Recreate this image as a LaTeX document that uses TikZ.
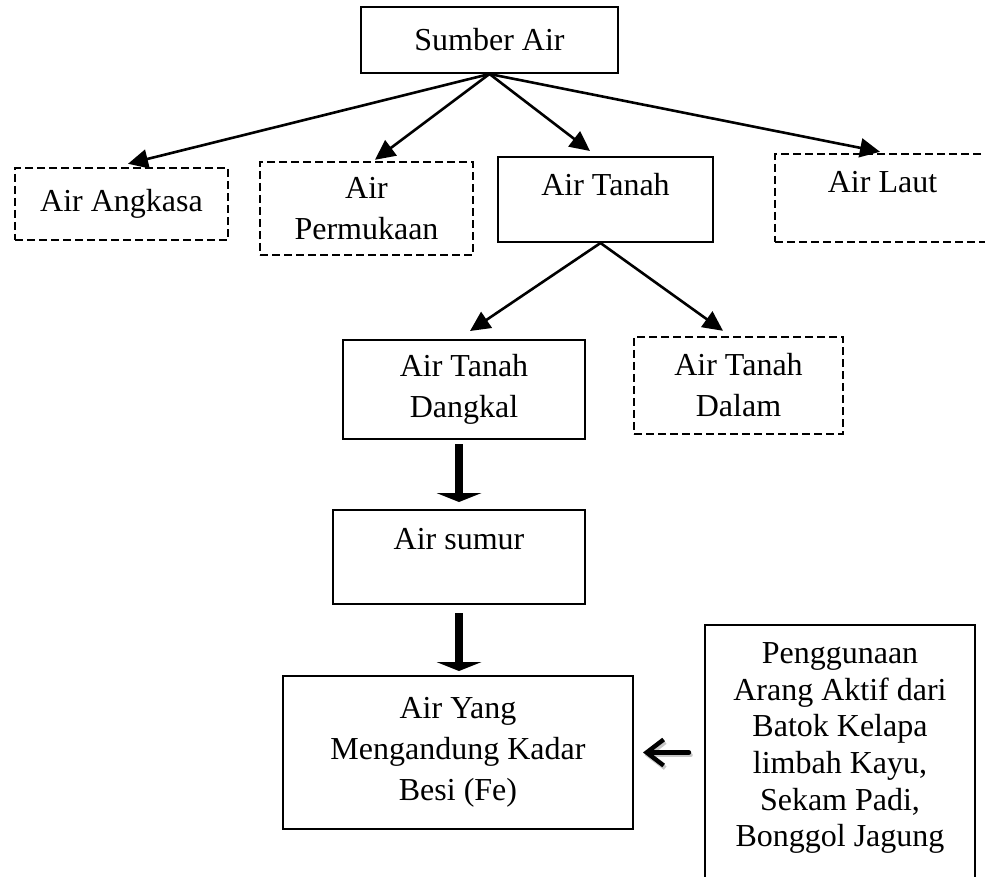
\documentclass[tikz,border=0pt]{standalone}
\usepackage{fontspec}
\setmainfont{Liberation Serif}
\usetikzlibrary{arrows.meta}
\tikzset{
  box/.style={draw, line width=1pt, inner sep=0pt, align=center,
    font=\fontsize{16}{20.5}\selectfont},
  dbox/.style={box, line width=1.2pt, dash pattern=on 4pt off 2pt},
  thinarr/.style={line width=1.3pt, -{Triangle[length=10pt,width=9.5pt]}},
  thickarr/.style={line width=4pt, -{Triangle[length=4.5pt,width=22.5pt,line width=0pt]}},
  sidearr/.style={line width=2.2pt, line cap=round, -{Straight Barb[length=8.5pt,width=13pt]}},
}
\begin{document}
\begin{tikzpicture}[x=0.5pt,y=-0.5pt]
\useasboundingbox (0,0) rectangle (985,877);
\clip (0,0) rectangle (985,877);
\fill[white] (0,0) rectangle (985,877);

\node[box, minimum width=128.5pt, minimum height=33pt] (sumber) at (489.5,40) {Sumber Air};
\node[dbox, minimum width=106.5pt, minimum height=36pt] (angkasa) at (121.5,204) {Air Angkasa};
\node[dbox, minimum width=106.5pt, minimum height=46.5pt] (permukaan) at (366.5,208.5) {Air\\Permukaan};
\node[box, minimum width=107.5pt, minimum height=42.5pt] (tanah) at (605.5,199.5) {Air Tanah\\[-5pt]\mbox{}};
\node[dbox, minimum width=107.5pt, minimum height=44pt] (laut) at (882.5,198) {Air Laut\\[-4.5pt]\mbox{}};
\node[box, minimum width=121pt, minimum height=49.5pt] (dangkal) at (464,389.5) {Air Tanah\\Dangkal};
\node[dbox, minimum width=104.5pt, minimum height=48.5pt] (dalam) at (738.5,385.5) {Air Tanah\\Dalam};
\node[box, minimum width=126pt, minimum height=47pt] (sumur) at (459,557) {Air sumur\\[-2.5pt]\mbox{}};
\node[box, minimum width=175pt, minimum height=76.5pt] (yang) at (458,752.5) {Air Yang\\Mengandung Kadar\\Besi (Fe)};
\node[box, minimum width=135pt, minimum height=145pt, font=\fontsize{16}{18.35}\selectfont] (penggunaan) at (840,770)
  {Penggunaan\\Arang Aktif dari\\Batok Kelapa\\limbah Kayu,\\Sekam Padi,\\Bonggol Jagung\\[7pt]\mbox{}};

\draw[thinarr] (sumber.south) -- ([shift={(6.5,-3)}]angkasa.north);
\draw[thinarr] (sumber.south) -- ([shift={(8.5,-1)}]permukaan.north);
\draw[thinarr] (sumber.south) -- ([shift={(-15.5,-5)}]tanah.north);
\draw[thinarr] (sumber.south) -- ([shift={(-2.5,-1)}]laut.north);
\draw[thinarr] ([shift={(-5,0)}]tanah.south) -- ([shift={(6,-8)}]dangkal.north);
\draw[thinarr] ([shift={(-5,0)}]tanah.south) -- ([shift={(-15.5,-5)}]dalam.north);

\draw[thickarr, shorten <=2pt, shorten >=3.5pt] (sumur.north |- dangkal.south) -- (sumur.north);
\draw[thickarr, shorten <=4pt, shorten >=2pt] (sumur.south) -- (sumur.south |- yang.north);

\draw[sidearr, black!22, transform canvas={shift={(0.8pt,-1.3pt)}}, shorten <=7.5pt, shorten >=4.5pt]
  (penggunaan.west |- yang.east) -- (yang.east);
\draw[sidearr, shorten <=7.5pt, shorten >=4.5pt] (penggunaan.west |- yang.east) -- (yang.east);
\end{tikzpicture}
\end{document}
